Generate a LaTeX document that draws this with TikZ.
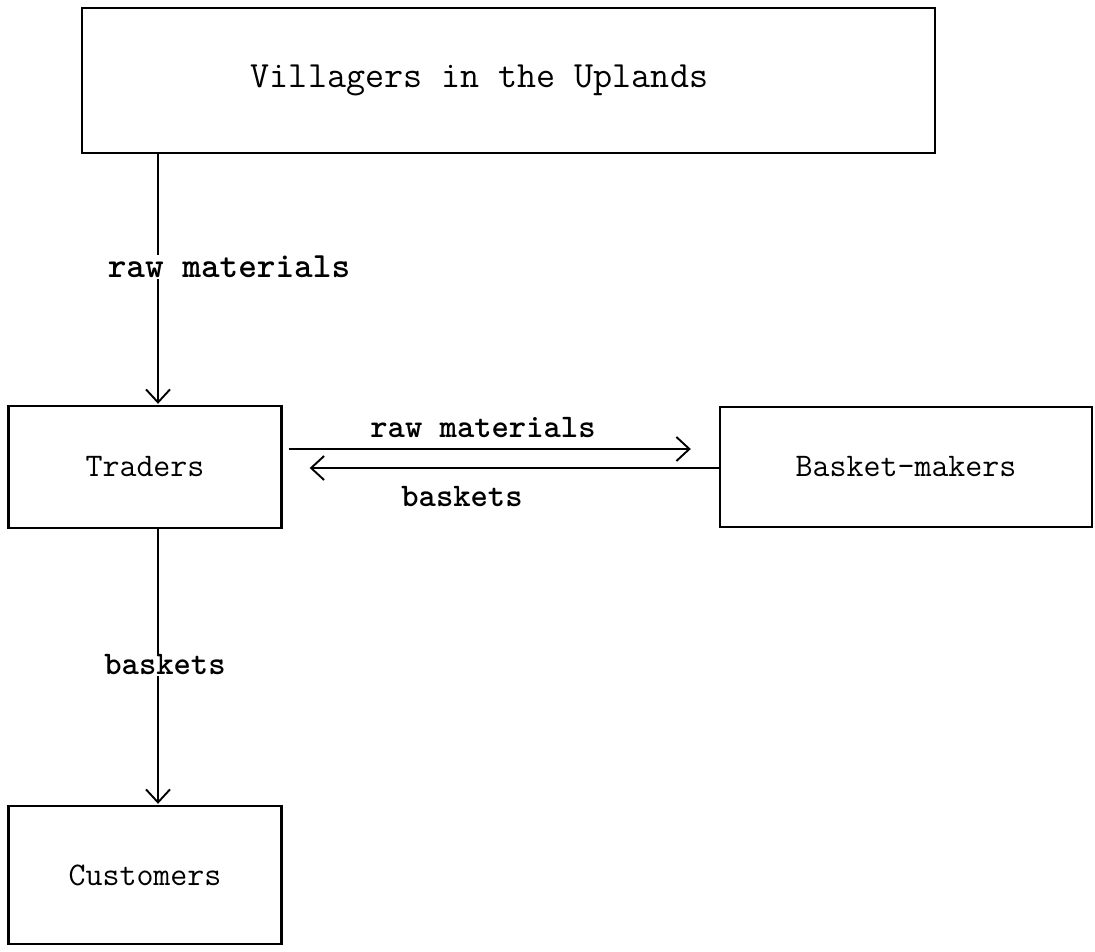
\documentclass[tikz,border=0pt]{standalone}
\usetikzlibrary{arrows.meta,calc}
\begin{document}
\begin{tikzpicture}[x=1pt,y=-1pt,
  box/.style={draw,line width=2.4pt,inner sep=0pt,line join=miter,
    font=\ttfamily\fontsize{33}{40}\selectfont},
  flow/.style={line width=1.9pt,-{Straight Barb[length=13pt,width=24pt,line width=1.9pt]}},
  lbl/.style={font=\ttfamily\bfseries\fontsize{33}{40}\selectfont,inner sep=1pt}]
\useasboundingbox (0,0) rectangle (1095,952);
\fill[white] (0,0) rectangle (1095,952);

% boxes
\node[box,minimum width=853pt,minimum height=145pt,font=\ttfamily\fontsize{37}{44}\selectfont]
  (vil) at (508.5,80.5) {Villagers in the Uplands\hspace*{58pt}};
\node[box,minimum width=273pt,minimum height=122pt] (trd) at (145,467) {Traders};
\node[box,minimum width=372pt,minimum height=120pt] (bsk) at (906,467) {Basket-makers};
\node[box,minimum width=273pt,minimum height=138pt] (cus) at (145,875) {Customers};

% vertical flows
\draw[flow] ([xshift=13pt]trd.north |- vil.south) -- ([xshift=13pt,yshift=1pt]trd.north);
\draw[flow] ([xshift=13pt]trd.south) -- ([xshift=13pt,yshift=1pt]cus.north);

% horizontal flows
\coordinate (rmEnd) at ($(bsk.west)+(-28,-18)$);
\draw[flow] ($(trd.east)+(6,-18)$) -- (rmEnd);
\draw[flow] ($(bsk.west)+(0,1)$) -- ($(trd.east)+(27,1)$);

% labels
\node[lbl,fill=white,font=\ttfamily\bfseries\fontsize{35.5}{42}\selectfont] (l1) at (229,267) {raw materials};
\node[lbl] (l2) at (483,428) {raw materials};
\node[lbl] (l3) at (462,497) {baskets};
\node[lbl,fill=white] (l4) at (165,665) {baskets};
\end{tikzpicture}
\end{document}
